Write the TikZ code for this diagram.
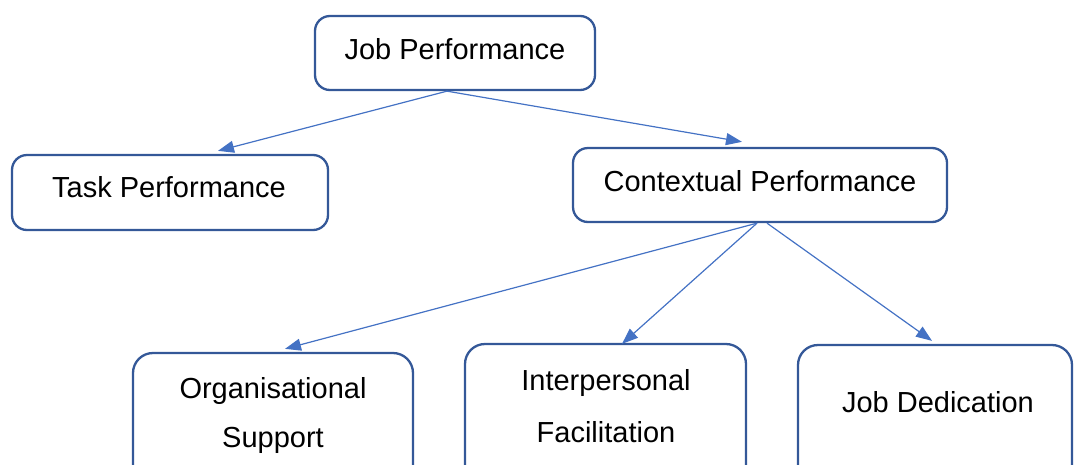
\documentclass[tikz,border=0pt]{standalone}
\usepackage{fontspec}
\setmainfont{Liberation Sans}
\usetikzlibrary{arrows.meta}
\definecolor{boxline}{RGB}{52,88,152}
\definecolor{arrowline}{RGB}{68,114,196}
\tikzset{
  box/.style={draw=boxline, line width=2.3pt, rounded corners=15pt, fill=white,
              inner sep=0pt, shape=rectangle},
  lowbox/.style={box, rounded corners=20pt},
  caption/.style={inner sep=0pt, anchor=base, font=\fontsize{29}{35}\selectfont},
  link/.style={draw=arrowline, line width=1.2pt,
               -{Triangle[length=16pt, width=12pt]}}
}
\begin{document}
\begin{tikzpicture}[x=1pt, y=-1pt]
  \useasboundingbox (0,0) rectangle (1074,464);
  \clip (0,0) rectangle (1074,464);

  % boxes
  \node[box, minimum width=280pt, minimum height=74pt] (jp) at (455,53) {};
  \node[box, minimum width=316pt, minimum height=75pt] (tp) at (170,192.5) {};
  \node[box, minimum width=374pt, minimum height=74pt] (cp) at (760,185) {};
  \node[lowbox, minimum width=280pt, minimum height=150pt] (os) at (273,428) {};
  \node[lowbox, minimum width=281pt, minimum height=150pt] (ifac) at (605.5,419) {};
  \node[lowbox, minimum width=274pt, minimum height=150pt] (jd) at (935,420) {};

  % labels
  \node[caption] (jpt) at (455,59) {Job Performance};
  \node[caption] (tpt) at (169,197) {Task Performance};
  \node[caption] (cpt) at (760,191) {Contextual Performance};
  \node[caption] (ost1) at (273,398) {Organisational};
  \node[caption] (ost2) at (273,447) {Support};
  \node[caption] (ift1) at (606,390) {Interpersonal};
  \node[caption] (ift2) at (606,442) {Facilitation};
  \node[caption] (jdt) at (938,412) {Job Dedication};

  % connectors
  \draw[link] ([xshift=-8pt]jp.south) -- ([xshift=48pt,yshift=3pt]tp.north);
  \draw[link] ([xshift=-8pt]jp.south) -- ([xshift=-18pt,yshift=5pt]cp.north);
  \draw[link] ([xshift=-3pt]cp.south) -- ([xshift=12pt,yshift=3pt]os.north);
  \draw[link] ([xshift=-3pt]cp.south) -- ([xshift=16.5pt,yshift=-1pt]ifac.north);
  \draw[link] ([xshift=7pt]cp.south) -- ([xshift=-3pt,yshift=3pt]jd.north);
\end{tikzpicture}
\end{document}
